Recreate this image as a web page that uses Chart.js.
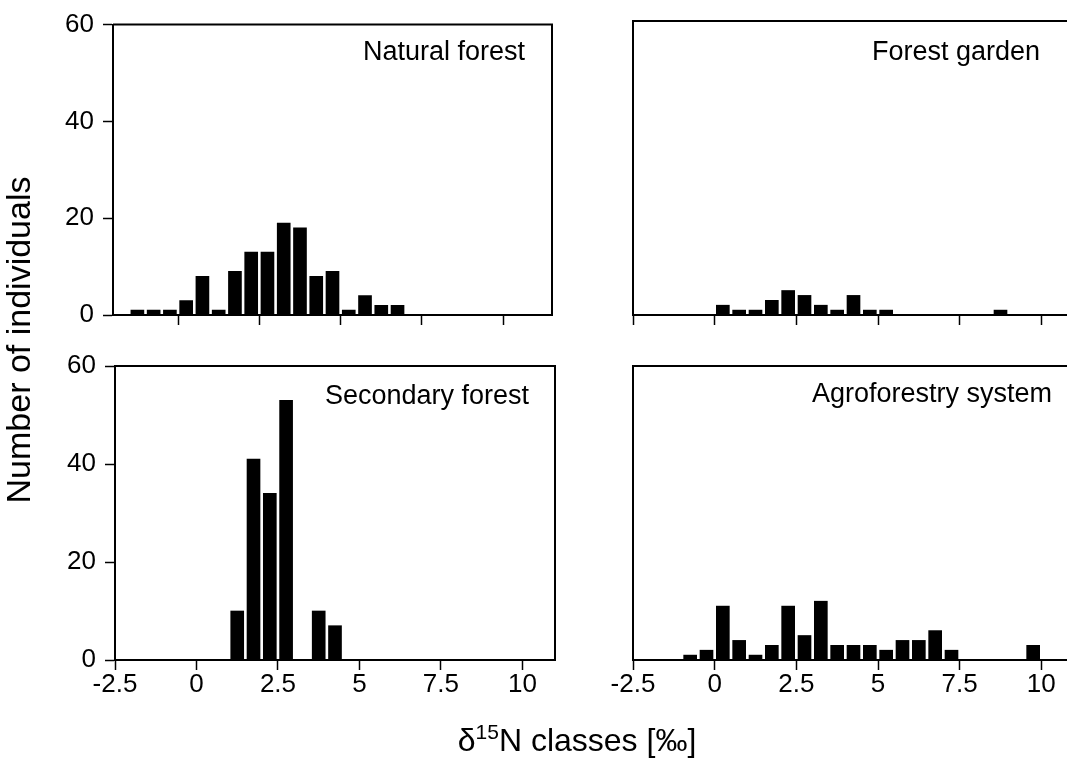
<!DOCTYPE html>
<html>
<head>
<meta charset="utf-8">
<script src="https://cdn.jsdelivr.net/npm/chart.js@4.4.1/dist/chart.umd.min.js"></script>
<style>
  html, body { margin: 0; padding: 0; overflow: hidden; background: #fff; }
  body { width: 1067px; height: 758px; position: relative; font-family: "Liberation Sans", Arial, sans-serif; color: #000; }
  canvas { position: absolute; }
  .lbl { position: absolute; width: 300px; text-align: right; font-size: 27px; line-height: 27px; white-space: nowrap; }
  #ytitle { position: absolute; width: 400px; left: -182px; top: 323px; height: 34px; line-height: 34px;
            font-size: 34px; text-align: center; transform: rotate(-90deg); white-space: nowrap; }
  #xtitle { position: absolute; width: 400px; left: 377px; top: 724px; line-height: 32px;
            font-size: 32px; text-align: center; white-space: nowrap; }
  #xtitle sup { font-size: 21px; line-height: 0; }
</style>
</head>
<body>
<canvas id="natural" width="560" height="340" style="left:0;top:0"></canvas>
<canvas id="garden" width="560" height="340" style="left:560px;top:0"></canvas>
<canvas id="secondary" width="560" height="418" style="left:0;top:340px"></canvas>
<canvas id="agro" width="560" height="418" style="left:560px;top:340px"></canvas>

<div class="lbl" style="left:225px;top:38px">Natural forest</div>
<div class="lbl" style="left:740px;top:38px">Forest garden</div>
<div class="lbl" style="left:229px;top:382px">Secondary forest</div>
<div class="lbl" style="left:752px;top:380px">Agroforestry system</div>
<div id="ytitle">Number of individuals</div>
<div id="xtitle">&delta;<sup>15</sup>N classes [&permil;]</div>

<script>
// tick labels
const xTicks = [-2.5, 0, 2.5, 5, 7.5, 10];
const yTicks = [0, 20, 40, 60];

// bin centres (0.5 wide classes) and counts
const naturalX = [-1.25, -0.75, -0.25, 0.25, 0.75, 1.25, 1.75, 2.25, 2.75, 3.25, 3.75, 4.25, 4.75, 5.25, 5.75, 6.25, 6.75];
const naturalN = [1, 1, 1, 3, 8, 1, 9, 13, 13, 19, 18, 8, 9, 1, 4, 2, 2];

const gardenX = [0.25, 0.75, 1.25, 1.75, 2.25, 2.75, 3.25, 3.75, 4.25, 4.75, 5.25, 8.75];
const gardenN = [2, 1, 1, 3, 5, 4, 2, 1, 4, 1, 1, 1];

const secondaryX = [1.25, 1.75, 2.25, 2.75, 3.75, 4.25];
const secondaryN = [10, 41, 34, 53, 10, 7];

const agroX = [-0.75, -0.25, 0.25, 0.75, 1.25, 1.75, 2.25, 2.75, 3.25, 3.75, 4.25, 4.75, 5.25, 5.75, 6.25, 6.75, 7.25, 9.75];
const agroN = [1, 2, 11, 4, 1, 3, 11, 5, 12, 3, 3, 3, 2, 4, 4, 6, 2, 3];

const FONT = "'Liberation Sans', Arial, sans-serif";

// draws the top and right edges of the plot box
const framePlugin = {
  id: "frame",
  afterDraw(chart) {
    const a = chart.chartArea;
    const ctx = chart.ctx;
    ctx.save();
    ctx.strokeStyle = "#000";
    ctx.lineWidth = 2;
    ctx.beginPath();
    ctx.moveTo(a.left, a.top);
    ctx.lineTo(a.right, a.top);
    ctx.lineTo(a.right, a.bottom);
    ctx.stroke();
    ctx.restore();
  }
};

function panel(id, xs, counts, opt) {
  new Chart(document.getElementById(id), {
    type: "bar",
    data: {
      datasets: [{
        data: xs.map((x, i) => ({ x: x, y: counts[i] })),
        backgroundColor: "#000",
        borderWidth: 0,
        barThickness: 13
      }]
    },
    options: {
      responsive: false,
      animation: false,
      layout: { padding: { left: 0, top: opt.top, right: opt.right, bottom: 0 } },
      plugins: { legend: { display: false }, tooltip: { enabled: false } },
      scales: {
        x: {
          type: "linear",
          min: opt.xmin,
          max: opt.xmax,
          offset: false,
          afterBuildTicks: (s) => { s.ticks = xTicks.filter((v) => v >= opt.xmin).map((v) => ({ value: v })); },
          afterFit: (s) => { s.height = opt.xh; },
          grid: { offset: false, drawOnChartArea: false, tickLength: 10, tickColor: "#000", tickWidth: 1.5 },
          border: { color: "#000", width: 2 },
          ticks: {
            display: opt.xlabels, color: "#000", padding: -1,
            font: { family: FONT, size: 26 }, maxRotation: 0, autoSkip: false
          }
        },
        y: {
          min: 0,
          max: 60,
          afterBuildTicks: (s) => { s.ticks = yTicks.map((v) => ({ value: v })); },
          afterFit: (s) => { s.width = opt.yw; },
          grid: { drawOnChartArea: false, drawTicks: opt.ylabels, tickLength: 10, tickColor: "#000", tickWidth: 1.5 },
          border: { color: "#000", width: 2 },
          ticks: {
            display: opt.ylabels, color: "#000", padding: 9,
            font: { family: FONT, size: 26 }
          }
        }
      }
    },
    plugins: [framePlugin]
  });
}

panel("natural", naturalX, naturalN, { xmin: -2, xmax: 11.5, top: 21, right: 8, xh: 25, yw: 113, xlabels: false, ylabels: true });
panel("garden", gardenX, gardenN, { xmin: -2.5, xmax: 11, top: 21, right: 46, xh: 25, yw: 73, xlabels: false, ylabels: false });
panel("secondary", secondaryX, secondaryN, { xmin: -2.5, xmax: 11, top: 26, right: 5, xh: 98, yw: 115, xlabels: true, ylabels: true });
panel("agro", agroX, agroN, { xmin: -2.5, xmax: 11, top: 26, right: 46, xh: 98, yw: 73, xlabels: true, ylabels: false });
</script>
</body>
</html>
